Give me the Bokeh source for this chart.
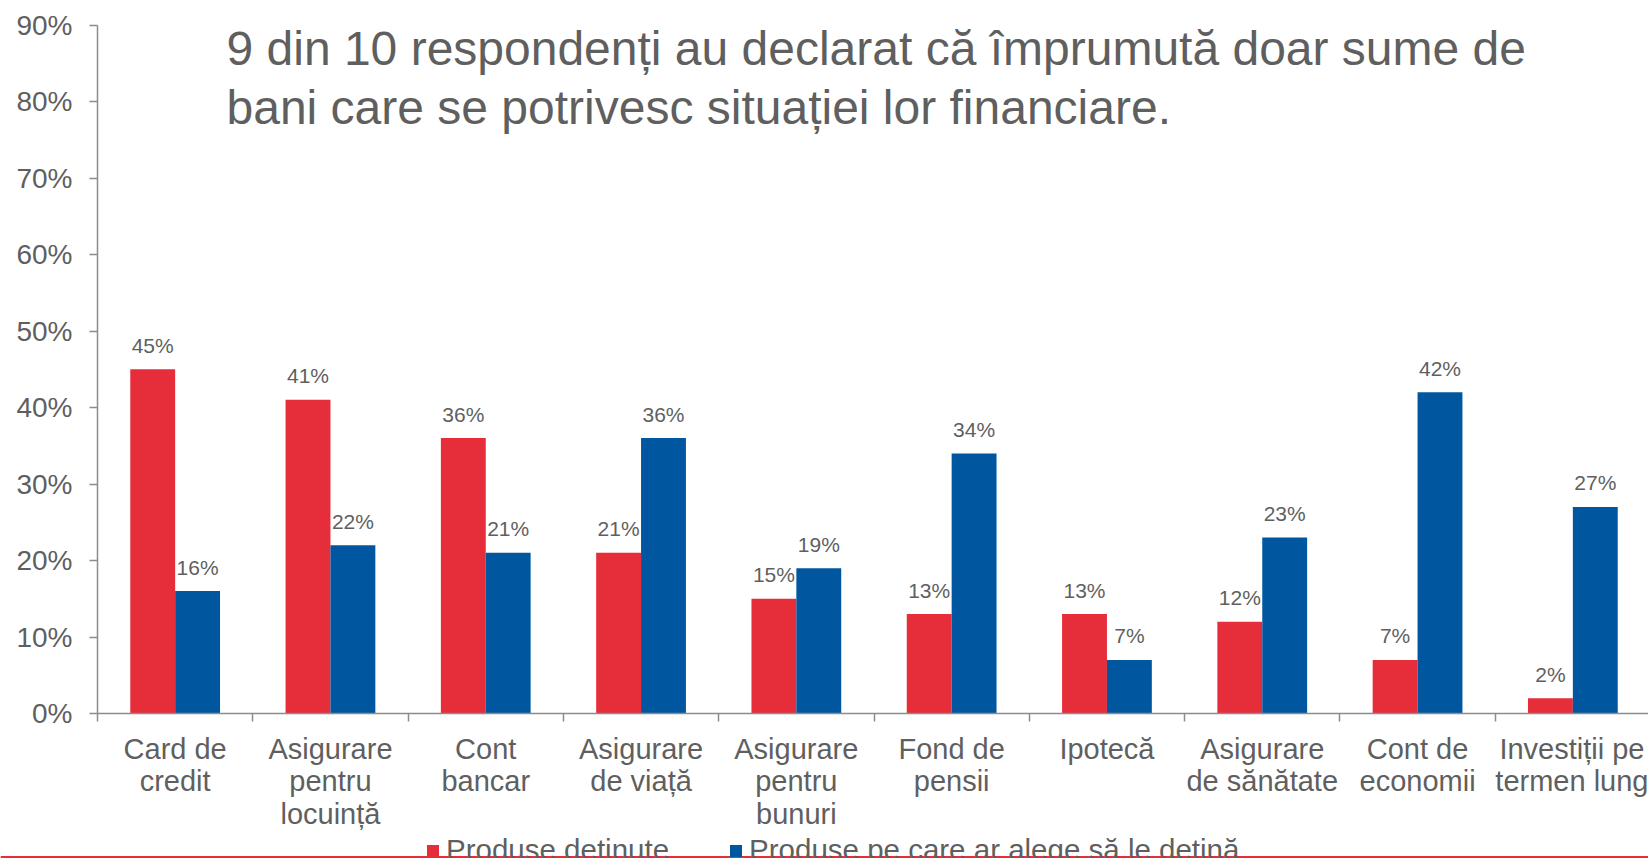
import numpy as np
from bokeh.plotting import figure
from bokeh.models import (ColumnDataSource, Range1d, FixedTicker, LinearAxis, Label,
                          Legend, LegendItem, BoxAnnotation, PrintfTickFormatter)
from bokeh.transform import dodge
from bokeh.core.properties import value
from bokeh.embed import file_html
from bokeh.resources import INLINE

categories = ["Card de\ncredit", "Asigurare\npentru\nlocuință", "Cont\nbancar",
              "Asigurare\nde viață", "Asigurare\npentru\nbunuri", "Fond de\npensii",
              "Ipotecă", "Asigurare\nde sănătate", "Cont de\neconomii",
              "Investiții pe\ntermen lung"]
owned = [45, 41, 36, 21, 15, 13, 13, 12, 7, 2]
wanted = [16, 22, 21, 36, 19, 34, 7, 23, 42, 27]
series_names = ["Produse deținute", "Produse pe care ar alege să le dețină"]
y_ticks = [0, 10, 20, 30, 40, 50, 60, 70, 80, 90]
title_lines = ["9 din 10 respondenți au declarat că împrumută doar sume de",
               "bani care se potrivesc situației lor financiare."]

RED = "#E62D3A"
BLUE = "#0057A0"
GREY = "#5F5F5F"
AXIS = "#8C8C8C"
FONT = "Liberation Sans"

W, H = 1648, 858
X0, Y0 = 97.0, 713.0          # pixel position of the data origin
PX_X, PX_Y = 155.3, 7.65       # pixels per category / per percent

xs = np.arange(len(categories)) + 0.5
src = ColumnDataSource(dict(
    x=xs, owned=owned, wanted=wanted,
    owned_lbl=[f"{v}%" for v in owned],
    wanted_lbl=[f"{v}%" for v in wanted],
))

p = figure(width=W, height=H, output_backend="svg", toolbar_location=None,
           x_range=Range1d(-X0 / PX_X, (W - X0) / PX_X),
           y_range=Range1d(-(H - Y0) / PX_Y, Y0 / PX_Y),
           min_border=0, min_border_left=0, min_border_right=0,
           min_border_top=0, min_border_bottom=0)
p.outline_line_color = None
p.xgrid.visible = False
p.ygrid.visible = False
p.background_fill_color = "white"
p.border_fill_color = "white"

bw = 0.289
off = bw / 2
r1 = p.vbar(x=dodge("x", -off, range=p.x_range), top="owned", width=bw, bottom=0,
            source=src, fill_color=RED, line_color=None)
r2 = p.vbar(x=dodge("x", off, range=p.x_range), top="wanted", width=bw, bottom=0,
            source=src, fill_color=BLUE, line_color=None)

for col, d in (("owned_lbl", -off), ("wanted_lbl", off)):
    p.text(x=dodge("x", d, range=p.x_range), y=col.replace("_lbl", ""), text=col,
           source=src, text_align="center", text_baseline="alphabetic",
           y_offset=-24, text_font=value(FONT), text_font_size="21px",
           text_color=GREY)

# y axis
ya = p.yaxis[0]
ya.fixed_location = 0
ya.bounds = (0, 90)
ya.ticker = FixedTicker(ticks=y_ticks)
ya.formatter = PrintfTickFormatter(format="%d%%")
ya.major_tick_out = 8
ya.major_tick_in = 0
ya.minor_tick_line_color = None
ya.axis_line_color = AXIS
ya.axis_line_width = 1.5
ya.major_tick_line_color = AXIS
ya.major_tick_line_width = 1.5
ya.major_label_text_font = FONT
ya.major_label_text_font_size = "28px"
ya.major_label_text_color = GREY
ya.major_label_standoff = 17

# x axis: boundary ticks only
xa = p.xaxis[0]
xa.fixed_location = 0
xa.bounds = (0, len(categories))
xa.ticker = FixedTicker(ticks=list(range(len(categories) + 1)))
xa.major_label_overrides = {i: "" for i in range(len(categories) + 1)}
xa.major_label_text_font_size = "1px"
xa.major_label_standoff = 0
xa.major_tick_out = 8
xa.major_tick_in = 0
xa.minor_tick_line_color = None
xa.axis_line_color = AXIS
xa.axis_line_width = 1.5
xa.major_tick_line_color = AXIS
xa.major_tick_line_width = 1.5

# x axis: category labels at centres
la = LinearAxis(ticker=FixedTicker(ticks=list(xs)), fixed_location=0,
                major_label_overrides={float(x): c for x, c in zip(xs, categories)})
la.axis_line_color = None
la.major_tick_line_color = None
la.minor_tick_line_color = None
la.major_tick_out = 0
la.major_tick_in = 0
la.major_label_standoff = 19
la.major_label_text_font = FONT
la.major_label_text_font_size = "29px"
la.major_label_text_color = GREY
la.major_label_text_line_height = 1.02
p.add_layout(la, "below")

# title
for t, yb in zip(title_lines, (H - 48, H - 107)):
    p.add_layout(Label(x=226, y=yb, x_units="screen", y_units="screen", text=t,
                       text_font=FONT, text_font_size="48px", text_color=GREY,
                       text_align="left", text_baseline="alphabetic"))

# legend
legend = Legend(items=[LegendItem(label=series_names[0], renderers=[r1]),
                       LegendItem(label=series_names[1], renderers=[r2])],
                location=(425, -9), orientation="horizontal",
                glyph_width=15, glyph_height=15, label_standoff=6, spacing=59,
                padding=0, margin=0, border_line_color=None,
                background_fill_alpha=0, label_text_font=FONT,
                label_text_font_size="29.5px", label_text_color=GREY)
p.add_layout(legend)

# footer rule
p.add_layout(BoxAnnotation(left=0, right=W, bottom=0, top=2.5,
                           left_units="screen", right_units="screen",
                           bottom_units="screen", top_units="screen",
                           fill_color=RED, fill_alpha=1, line_color=None))

open("out.html", "w").write(file_html(p, INLINE))
